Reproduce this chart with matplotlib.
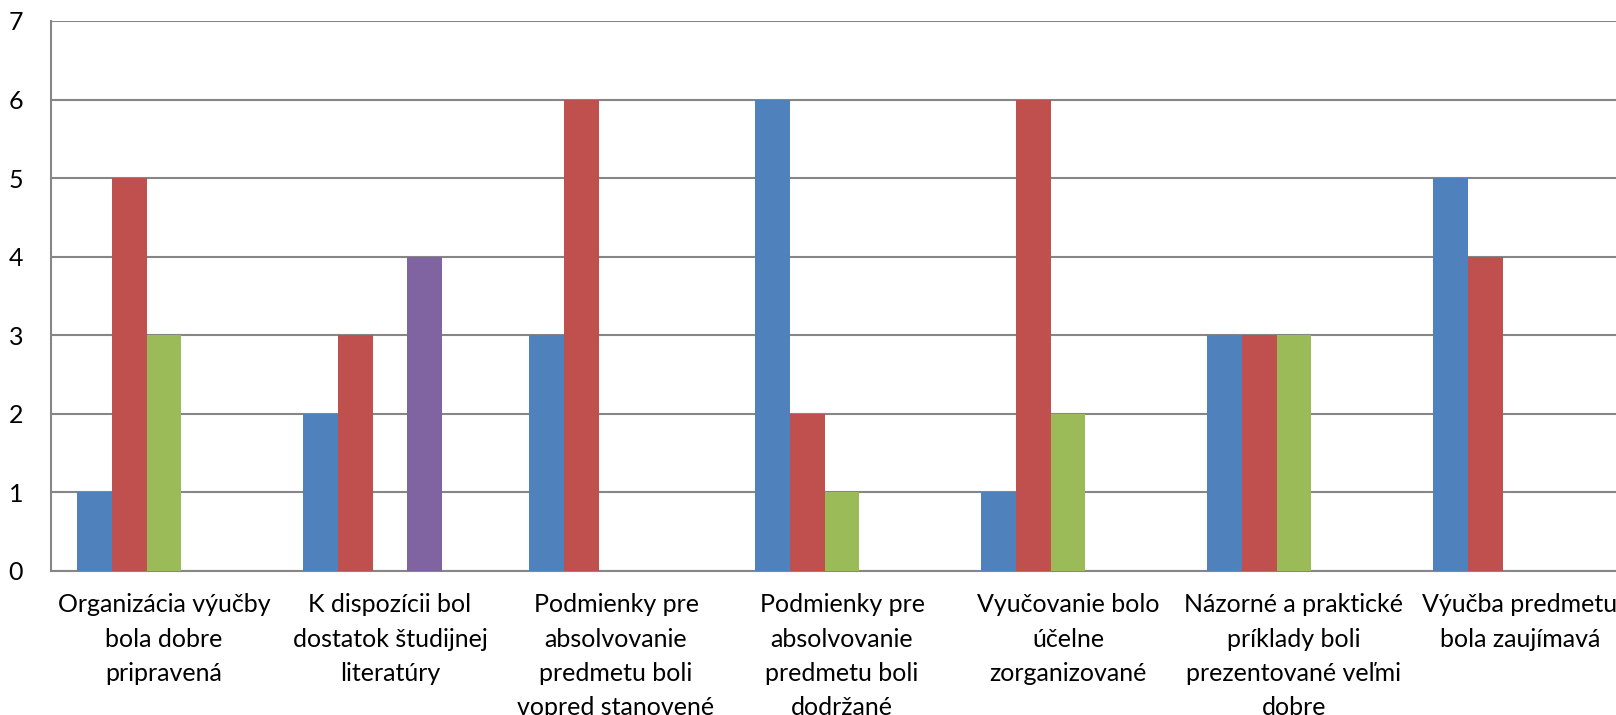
import numpy as np
import matplotlib
matplotlib.use("Agg")
import matplotlib.pyplot as plt

plt.rcParams['font.family'] = ['Lato', 'DejaVu Sans']

categories = ["Organizácia výučby\nbola dobre\npripravená",
              "K dispozícii bol\ndostatok študijnej\nliteratúry",
              "Podmienky pre\nabsolvovanie\npredmetu boli\nvopred stanovené",
              "Podmienky pre\nabsolvovanie\npredmetu boli\ndodržané",
              "Vyučovanie bolo\núčelne\nzorganizované",
              "Názorné a praktické\npríklady boli\nprezentované veľmi\ndobre",
              "Výučba predmetu\nbola zaujímavá"]

# four visible series (a fifth, empty slot is kept in each group as in the original)
s_blue = [1, 2, 3, 6, 1, 3, 5]
s_red = [5, 3, 6, 2, 6, 3, 4]
s_green = [3, 0, 0, 1, 2, 3, 0]
s_purple = [0, 4, 0, 0, 0, 0, 0]
series = [s_blue, s_red, s_green, s_purple]
colors = ["#4F81BD", "#C0504D", "#9BBB59", "#8064A2"]

fig = plt.figure(figsize=(16.16, 7.15), dpi=100)
ax = fig.add_axes([51/1616, 144/715, 1582/1616, 550/715])

n_slots = 5
w = 1 / (n_slots + 1.5)
x = np.arange(len(categories))
for j, (vals, c) in enumerate(zip(series, colors)):
    pos = x - 0.5 + 0.75*w + w*(j + 0.5)
    ax.bar(pos, vals, width=w, color=c, zorder=3, linewidth=0)

ax.set_xlim(-0.5, len(categories) - 0.5)
ax.set_ylim(0, 7)
ax.set_yticks(range(8))
ax.yaxis.grid(True, color="#868686", linewidth=1.5, zorder=0)
ax.set_axisbelow(True)
ax.set_xticks(x)
ax.set_xticklabels(categories, fontsize=18, linespacing=1.6)
ax.tick_params(axis='x', length=0, pad=16)
ax.tick_params(axis='y', length=0, pad=20, labelsize=18)
for s in ["top", "right"]:
    ax.spines[s].set_visible(False)
for s in ["left", "bottom"]:
    ax.spines[s].set_color("#868686")
    ax.spines[s].set_linewidth(1.5)

fig.savefig("out.png", dpi=100)
